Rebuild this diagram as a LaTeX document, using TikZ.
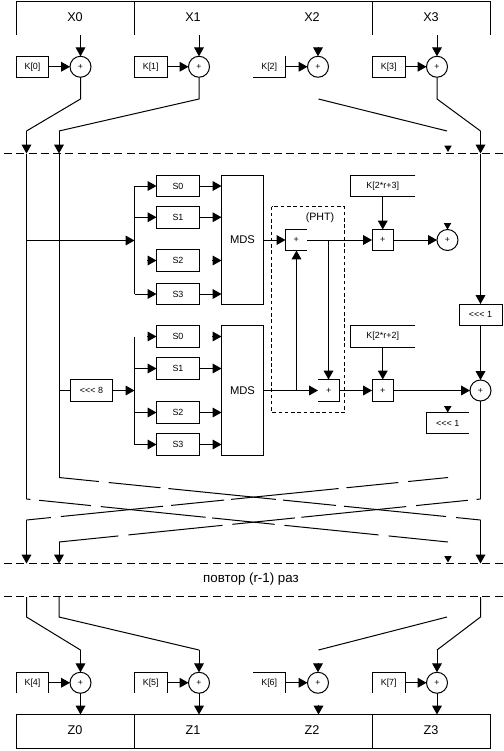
\documentclass[tikz,border=0pt]{standalone}
\usepackage{fontspec}
\setmainfont{Liberation Sans}
\usetikzlibrary{arrows.meta}
\tikzset{
  base/.style={line width=0.75pt,line cap=butt,line join=miter},
  arr/.style={base,-{Triangle[length=6.6pt,width=7.2pt]}},
  arrs/.style={base,-{Triangle[length=4.8pt,width=5.4pt]}},
  rule/.style={base,dash pattern=on 6pt off 3.2pt},
  phtline/.style={base,dash pattern=on 2.7pt off 2pt},
  xlinea/.style={base,dash pattern=on 30pt off 7.5pt on 39pt off 6pt on 81pt off 5.3pt on 40pt off 6pt on 77pt off 7.5pt on 30pt},
  xlineb/.style={base,dash pattern=on 3pt off 6.5pt on 39pt off 7.5pt on 79pt off 5pt on 47pt off 7.5pt on 71pt off 7.5pt on 60pt},
  adder/.style={circle,draw,base,inner sep=0pt,outer sep=0pt,minimum size=15.75pt,font=\fontsize{6.5}{7}\selectfont},
  boxtxt/.style={inner sep=0pt,outer sep=0pt,font=\fontsize{6.7}{8}\selectfont},
  drawn/.style={draw,base},
  bigtxt/.style={inner sep=0pt,font=\fontsize{9.5}{11}\selectfont},
  mdstxt/.style={font=\fontsize{8.4}{10}\selectfont},
}
\newcommand{\bx}[7][]{%
  \pgfmathsetlengthmacro\bxw{(#5-#3)*0.75pt}%
  \pgfmathsetlengthmacro\bxh{(#6-#4)*0.75pt}%
  \node[boxtxt,minimum width=\bxw,minimum height=\bxh,#1] (#2) at ({(#3+#5)/2},{(#4+#6)/2}) {#7};}
\newcommand{\rotl}{{<}{<}{<}}
\begin{document}
\begin{tikzpicture}[x=0.75pt,y=-0.75pt]
\useasboundingbox (0,0) rectangle (504,751);
% top frame
\coordinate (f0) at (16.5,34.5); \coordinate (f1) at (16.5,1.5); \coordinate (f2) at (490.5,1.5); \coordinate (f3) at (490.5,34.5);
\draw[base] (f0)--(f1)--(f2)--(f3);
\draw[base] (134.5,1.5)--(134.5,34.5);
\draw[base] (372.5,1.5)--(372.5,34.5);
\node[bigtxt] (X0) at (75,17.5) {X0};
\node[bigtxt] (X1) at (193,17.5) {X1};
\node[bigtxt] (X2) at (312,17.5) {X2};
\node[bigtxt] (X3) at (431,17.5) {X3};
% top adders
\node[adder] (a0) at (80.5,66.75) {+};
\node[adder] (a1) at (199,66.75) {+};
\node[adder] (a2) at (318,66.75) {+};
\node[adder] (a3) at (437,66.75) {+};
\coordinate (t0) at (80.5,35); \coordinate (t1) at (199,35); \coordinate (t3) at (437,35);
\draw[arr] (t0)--(a0.north);
\draw[arr] (t1)--(a1.north);
\draw[arr] ([yshift=7pt]a2.north)--(a2.north);
\draw[arr] (t3)--(a3.north);
\bx{k0}{16.5}{56}{48.5}{77.5}{K[0]}
\bx{k1}{134.5}{56}{167}{77.5}{K[1]}
\bx{k2}{253}{56}{285.5}{77.5}{K[2]}
\bx{k3}{372.5}{56}{405}{77.5}{K[3]}
\draw[base] (k0.north west)--(k0.north east)--(k0.south east)--(k0.south west)--cycle;
\draw[base] (k1.north west)--(k1.north east)--(k1.south east)--(k1.south west)--cycle;
\draw[base] (k2.north east)--(k2.south east)--(k2.south west);
\draw[base] (k3.north west)--(k3.north east)--(k3.south east)--(k3.south west)--cycle;
\draw[arr] (k0.east)--(a0.west);
\draw[arr] (k1.east)--(a1.west);
\draw[arr] (k2.east)--(a2.west);
\draw[arr] (k3.east)--(a3.west);
% fan out
\coordinate (d0) at (80.5,99); \coordinate (d1) at (199,99); \coordinate (d2) at (318.5,99); \coordinate (d3) at (437,99);
\coordinate (e0) at (26.5,131); \coordinate (e1) at (59,131); \coordinate (e2) at (447,131); \coordinate (e3) at (480.5,131);
\draw[base] (a0.south)--(d0)--(e0);
\draw[base] (a1.south)--(d1)--(e1);
\draw[base] (d2)--(e2);
\draw[base] (a3.south)--(d3)--(e3);
\coordinate (h0) at (26.5,153.5); \coordinate (h1) at (59,153.5); \coordinate (h2) at (448,152); \coordinate (h3) at (480.5,153.5);
\draw[arr] (e0)--(h0);
\draw[arr] (e1)--(h1);
\draw[arrs] (448,145.5)--(h2);
\draw[arr] (e3)--(h3);
\draw[rule] (4,153.5)--(504,153.5);
% rails
\coordinate (c0) at (26.5,499); \coordinate (c1) at (59,477.5); \coordinate (c3) at (480.5,499);
\coordinate (j0) at (26.5,240.5); \coordinate (j1) at (59,390.5);
\draw[base] (h0)--(c0);
\draw[base] (h1)--(c1);
% upper S group
\bx[drawn]{s0}{156.5}{175.5}{199.5}{196.5}{S0}
\bx[drawn]{s1}{156.5}{206.5}{199.5}{228}{S1}
\bx[drawn]{s2}{156.5}{249.5}{199.5}{271.5}{S2}
\bx[drawn]{s3}{156.5}{283.5}{199.5}{304.5}{S3}
\bx[drawn,mdstxt]{m0}{221.5}{175.5}{263.5}{304.5}{MDS}
\coordinate (b0) at (134.5,186); \coordinate (b1) at (134.5,217.25); \coordinate (b2) at (134.5,240.5); \coordinate (b3) at (134.5,294);
\draw[arr] (j0)--(b2);
\draw[base] (b0)--(b3);
\draw[arr] (b0)--(s0.west);
\draw[arr] (b1)--(s1.west);
\draw[arr] ([xshift=-7pt]s2.west)--(s2.west);
\draw[arr] (b3)--(s3.west);
\draw[arr] (s0.east)--(s0.east-|m0.west);
\draw[arr] (s1.east)--(s1.east-|m0.west);
\draw[arr] ([xshift=-7pt]s2.east-|m0.west)--(s2.east-|m0.west);
\draw[arr] (s3.east)--(s3.east-|m0.west);
% lower S group
\bx[drawn]{r0}{156.5}{325.5}{199.5}{347.5}{S0}
\bx[drawn]{r1}{156.5}{357.5}{199.5}{379.5}{S1}
\bx[drawn]{r2}{156.5}{401.5}{199.5}{423.5}{S2}
\bx[drawn]{r3}{156.5}{433.5}{199.5}{455.5}{S3}
\bx[drawn,mdstxt]{m1}{221.5}{325.5}{263.5}{455.5}{MDS}
\bx[drawn]{rot8}{70.5}{379.5}{112.5}{401.5}{\rotl{} 8}
\coordinate (q0) at (134.5,336.5); \coordinate (q1) at (134.5,368.5); \coordinate (q2) at (134.5,412.5); \coordinate (q3) at (134.5,444.5); \coordinate (q4) at (134.5,390.5);
\draw[base] (q0)--(q3);
\draw[base] (j1)--(rot8.west);
\draw[arr] (rot8.east)--(q4);
\draw[arr] ([xshift=-7pt]r0.west)--(r0.west);
\draw[arr] (q1)--(r1.west);
\draw[arr] (q2)--(r2.west);
\draw[arr] (q3)--(r3.west);
\draw[arr] ([xshift=-7pt]r0.east-|m1.west)--(r0.east-|m1.west);
\draw[arr] (r1.east)--(r1.east-|m1.west);
\draw[arr] (r2.east)--(r2.east-|m1.west);
\draw[arr] (r3.east)--(r3.east-|m1.west);
% PHT
\draw[phtline] (271.5,206.5) rectangle (344.5,412.5);
\node[inner sep=0pt,font=\fontsize{8}{9}\selectfont] (pht) at (320,218) {(PHT)};
\bx{p0}{285.5}{229.5}{307}{250.5}{+}
\bx{p1}{318}{379.5}{339.5}{401.5}{+}
\draw[base] (p0.north east)--(p0.north west)--(p0.south west)--(p0.south east);
\draw[base] (p1.north west)--(p1.north east)--(p1.south east)--(p1.south west);
\coordinate (u0) at (296.5,390.5); \coordinate (u1) at (328.5,240);
\draw[arr] (m0.east|-p0.west)--(p0.west);
\draw[arr] (m1.east|-p1.west)--(p1.west);
\draw[arr] (u0)--(p0.south-|u0);
\draw[arr] (u1)--(p1.north-|u1);
% right adders
\bx[drawn]{g0}{372}{229.5}{393.5}{250.5}{+}
\bx[drawn]{g1}{372}{379.5}{393.5}{401.5}{+}
\bx{kk0}{350.5}{175.5}{415}{196.5}{K[2*r+3]}
\bx{kk1}{350.5}{325.5}{415}{347.5}{K[2*r+2]}
\draw[base] (kk0.north east)--(kk0.north west)--(kk0.south west)--(kk0.south east);
\draw[base] (kk1.north east)--(kk1.north west)--(kk1.south west)--(kk1.south east);
\draw[arr] (kk0.south-|g0.north)--(g0.north);
\draw[arr] (kk1.south-|g1.north)--(g1.north);
\draw[arr] (p0.east)--(g0.west);
\draw[arr] (p1.east)--(g1.west);
\node[adder] (o0) at (447.5,240) {+};
\node[adder] (o1) at (480.5,390.5) {+};
\draw[arr] (g0.east)--(o0.west);
\draw[arr] (g1.east)--(o1.west);
\draw[arrs] ([yshift=5pt]o0.north)--(o0.north);
\bx[drawn]{rot1}{459}{304}{502}{325.5}{\rotl{} 1}
\draw[arr] (h3)--(rot1.north);
\draw[arr] (rot1.south)--(o1.north);
\draw[base] (o1.south)--(c3);
\bx{rot2}{426.5}{412.5}{469}{433.5}{\rotl{} 1}
\draw[base] (rot2.north east)--(rot2.north west)--(rot2.south west)--(rot2.south east);
\draw[arrs] ([yshift=5pt]rot2.north)--(rot2.north);
% crossing
\coordinate (y0) at (26.5,520); \coordinate (y1) at (59,542); \coordinate (y2) at (448,542); \coordinate (y3) at (480.5,520);
\coordinate (w2) at (448,477.5);
\draw[xlinea] (c1)--(y3);
\draw[xlineb] (c0)--(y2);
\draw[xlinea] (w2)--(y0);
\draw[xlineb] (c3)--(y1);
\coordinate (n0) at (26.5,563.5); \coordinate (n1) at (59,563.5); \coordinate (n2) at (448,562.5); \coordinate (n3) at (480.5,563.5);
\draw[arr] (y0)--(n0);
\draw[arr] (y1)--(n1);
\draw[arrs] (448,555.5)--(n2);
\draw[arr] (y3)--(n3);
\draw[rule] (4,563.5)--(504,563.5);
\node[inner sep=0pt,font=\fontsize{10}{12}\selectfont] (rep) at (251,579) {повтор (r-1) раз};
\draw[rule] (4,596.5)--(504,596.5);
% bottom adders
\coordinate (v0) at (26.5,597); \coordinate (v1) at (59,597); \coordinate (v3) at (480.5,597);
\coordinate (vb0) at (26.5,617); \coordinate (vb1) at (59,617); \coordinate (vb2) at (447,617); \coordinate (vb3) at (480.5,617);
\coordinate (z0) at (80.5,650); \coordinate (z1) at (199,650); \coordinate (z2) at (318.5,650); \coordinate (z3) at (437,650);
\node[adder] (A0) at (80.5,682.75) {+};
\node[adder] (A1) at (199,682.75) {+};
\node[adder] (A2) at (318,682.75) {+};
\node[adder] (A3) at (437,682.75) {+};
\draw[base] (v0)--(vb0)--(z0);
\draw[base] (v1)--(vb1)--(z1);
\draw[base] (vb2)--(z2);
\draw[base] (v3)--(vb3)--(z3);
\draw[arr] (z0)--(A0.north);
\draw[arr] (z1)--(A1.north);
\draw[arr] ([yshift=7pt]A2.north)--(A2.north);
\draw[arr] (z3)--(A3.north);
\bx{K4}{16.5}{672.5}{48.5}{693}{K[4]}
\bx{K5}{134.5}{672.5}{167}{693}{K[5]}
\bx{K6}{253}{672.5}{285.5}{693}{K[6]}
\bx{K7}{372.5}{672.5}{405}{693}{K[7]}
\draw[base] (K4.south west)--(K4.north west)--(K4.north east)--(K4.south east);
\draw[base] (K5.south west)--(K5.north west)--(K5.north east)--(K5.south east);
\draw[base] (K6.north west)--(K6.north east)--(K6.south east);
\draw[base] (K7.south west)--(K7.north west)--(K7.north east)--(K7.south east);
\draw[arr] (K4.east)--(A0.west);
\draw[arr] (K5.east)--(A1.west);
\draw[arr] (K6.east)--(A2.west);
\draw[arr] (K7.east)--(A3.west);
% output
\coordinate (zt0) at (80.5,714.5); \coordinate (zt1) at (199,714.5); \coordinate (zt2) at (318.5,714.5); \coordinate (zt3) at (437,714.5);
\draw[arr] (A0.south)--(zt0);
\draw[arr] (A1.south)--(zt1);
\draw[arr] (318.5,705)--(zt2);
\draw[arr] (A3.south)--(zt3);
\draw[base] (16.5,714.5) rectangle (490.5,748.5);
\draw[base] (134.5,714.5)--(134.5,748.5);
\draw[base] (372.5,714.5)--(372.5,748.5);
\node[bigtxt] (Z0) at (75,730.5) {Z0};
\node[bigtxt] (Z1) at (193,730.5) {Z1};
\node[bigtxt] (Z2) at (312,730.5) {Z2};
\node[bigtxt] (Z3) at (431,730.5) {Z3};
\end{tikzpicture}
\end{document}
